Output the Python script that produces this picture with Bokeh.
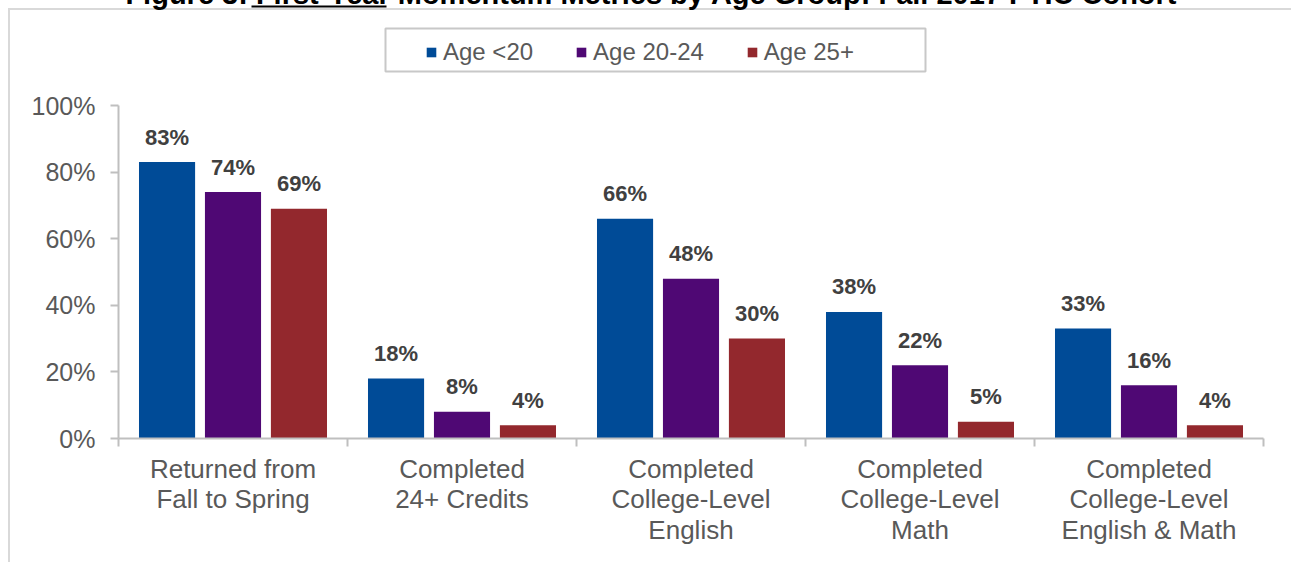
from bokeh.plotting import figure
from bokeh.models import (Range1d, LinearAxis, FixedTicker,
                          NumeralTickFormatter, Legend, LegendItem, BoxAnnotation, Label,
                          ColumnDataSource)
from bokeh.core.properties import value
from bokeh.embed import file_html
from bokeh.resources import INLINE

# ---------------- data ----------------
categories = [
    "Returned from\nFall to Spring",
    "Completed\n24+ Credits",
    "Completed\nCollege-Level\nEnglish",
    "Completed\nCollege-Level\nMath",
    "Completed\nCollege-Level\nEnglish & Math",
]
series_names = ["Age <20", "Age 20-24", "Age 25+"]
age_lt20 = [0.83, 0.18, 0.66, 0.38, 0.33]
age_20_24 = [0.74, 0.08, 0.48, 0.22, 0.16]
age_25_plus = [0.69, 0.04, 0.30, 0.05, 0.04]
y_ticks = [0, 0.2, 0.4, 0.6, 0.8, 1.0]
title_text = "Figure 3: First-Year Momentum Metrics by Age Group: Fall 2017 FTIC Cohort"

# ---------------- style / layout ----------------
FONT = "Liberation Sans"
colors = ["#004B97", "#4F0874", "#93282D"]
AXIS_GRAY = "#bfbfbf"
TEXT_GRAY = "#595959"
LABEL_GRAY = "#404040"

TOP_SHIFT = 14            # canvas starts this many px above the page top
CANVAS_W, CANVAS_H = 1291, 562 + TOP_SHIFT
FRAME_L, FRAME_R = 118, 1263        # page x of plot area
Y0_PAGE, Y100_PAGE = 438, 105       # page y of 0% and 100%


def cy(page_y):
    return page_y + TOP_SHIFT


frame_h = cy(Y0_PAGE)               # frame reaches the canvas top
y_end = frame_h / (Y0_PAGE - Y100_PAGE)

n_cat = len(categories)
centers = [i + 0.5 for i in range(n_cat)]
boundaries = list(range(n_cat + 1))

p = figure(width=CANVAS_W, height=CANVAS_H,
           x_range=Range1d(0, n_cat), y_range=Range1d(0, y_end),
           output_backend="svg", toolbar_location=None,
           x_axis_location=None, y_axis_location=None,
           min_border_left=FRAME_L, min_border_right=CANVAS_W - FRAME_R,
           min_border_top=0, min_border_bottom=CANVAS_H - frame_h)
p.styles = {
    "margin-top": f"-{TOP_SHIFT}px",
    "box-shadow": f"inset 8px {cy(8)}px 0 0 #ffffff, inset 10px {cy(10)}px 0 0 #d9d9d9",
}
p.outline_line_color = None
p.background_fill_color = None
p.border_fill_color = None
p.xgrid.grid_line_color = None
p.ygrid.grid_line_color = None

# y axis (line limited to 0..100%)
yaxis = LinearAxis(ticker=FixedTicker(ticks=y_ticks),
                   formatter=NumeralTickFormatter(format="0%"), bounds=(0, 1))
yaxis.axis_line_color = AXIS_GRAY
yaxis.axis_line_width = 2
yaxis.major_tick_line_color = AXIS_GRAY
yaxis.major_tick_line_width = 2
yaxis.major_tick_out = 8
yaxis.major_tick_in = 0
yaxis.minor_tick_line_color = None
yaxis.major_label_text_font = FONT
yaxis.major_label_text_font_size = "25px"
yaxis.major_label_text_color = TEXT_GRAY
yaxis.major_label_standoff = 15
p.add_layout(yaxis, "left")

# x axis: labels at category centres, tick marks at category boundaries
xaxis = LinearAxis(ticker=FixedTicker(ticks=centers, minor_ticks=boundaries),
                   major_label_overrides={c: lab for c, lab in zip(centers, categories)})
xaxis.axis_line_color = AXIS_GRAY
xaxis.axis_line_width = 2
xaxis.major_tick_line_color = None
xaxis.major_tick_in = 0
xaxis.major_tick_out = 8
xaxis.minor_tick_line_color = AXIS_GRAY
xaxis.minor_tick_line_width = 2
xaxis.minor_tick_in = 0
xaxis.minor_tick_out = 8
xaxis.major_label_text_font = FONT
xaxis.major_label_text_font_size = "26px"
xaxis.major_label_text_color = TEXT_GRAY
xaxis.major_label_text_line_height = 1.03
xaxis.major_label_standoff = 7
p.add_layout(xaxis, "below")

# bars and labels
offsets = [-0.288, 0.0, 0.288]
series_vals = [age_lt20, age_20_24, age_25_plus]
renderers = []
for i, (off, vals) in enumerate(zip(offsets, series_vals)):
    src = ColumnDataSource(data=dict(
        x=[c + off for c in centers], top=vals,
        lbl=[f"{round(v * 100)}%" for v in vals]))
    r = p.vbar(x="x", top="top", width=0.245, source=src,
               fill_color=colors[i], line_color=None)
    renderers.append(r)
    p.text(x="x", y="top", text="lbl", source=src,
           text_align="center", text_baseline="alphabetic", y_offset=-25,
           text_font=value(FONT), text_font_size="22px",
           text_font_style="bold", text_color=LABEL_GRAY)

legend = Legend(items=[LegendItem(label=n, renderers=[r]) for n, r in zip(series_names, renderers)],
                orientation="horizontal", location=(425 - FRAME_L, Y0_PAGE - 66),
                border_line_color=None, background_fill_alpha=0,
                glyph_width=12, glyph_height=12, label_standoff=6, spacing=42,
                padding=0, margin=0,
                label_text_font=FONT, label_text_font_size="24px",
                label_text_color=TEXT_GRAY)
p.add_layout(legend, "center")

# legend box
p.add_layout(BoxAnnotation(left=385, right=925, top=cy(28), bottom=cy(71),
                           left_units="canvas", right_units="canvas",
                           top_units="canvas", bottom_units="canvas",
                           fill_alpha=0, line_color="#c8c8c8", line_alpha=1, line_width=2))

# title (mostly cut off above the page)
p.add_layout(Label(x=651, y=cy(4) - 11, x_units="canvas", y_units="canvas",
                   text=title_text, text_align="center", text_baseline="alphabetic",
                   text_font=FONT, text_font_size="29px", text_font_style="bold",
                   text_color="#000000"))
p.add_layout(BoxAnnotation(left=251, right=386, top=cy(5), bottom=cy(7),
                           left_units="canvas", right_units="canvas",
                           top_units="canvas", bottom_units="canvas",
                           fill_color="#000000", fill_alpha=1, line_color=None))

open("out.html", "w").write(file_html(p, INLINE))
